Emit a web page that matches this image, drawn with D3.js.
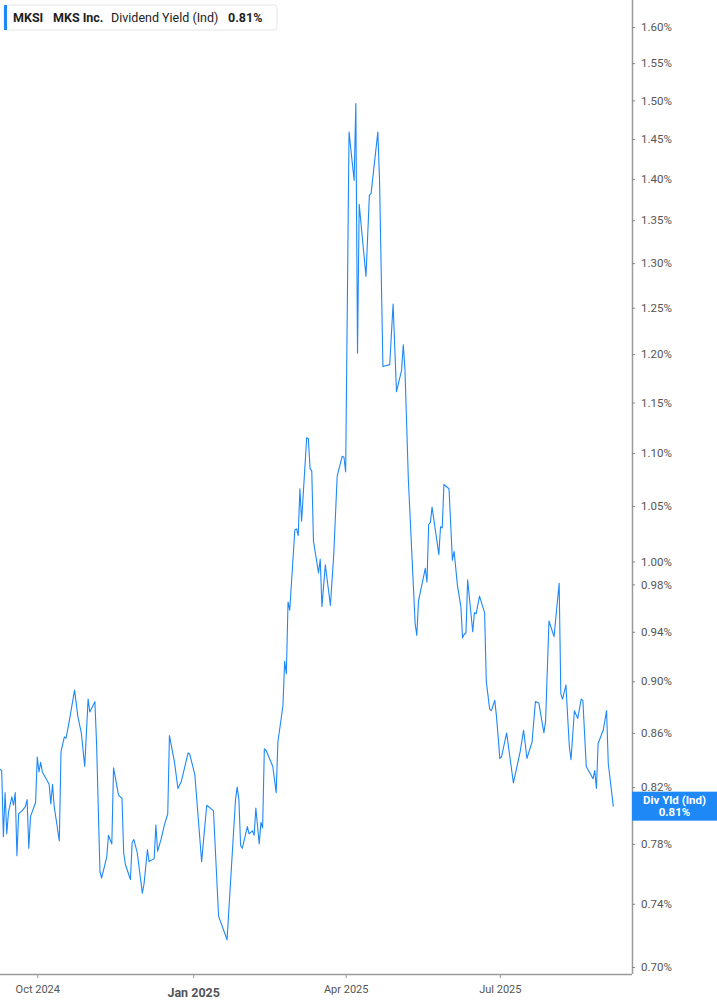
<!DOCTYPE html>
<html lang="en">
<head>
<meta charset="UTF-8">
<title>MKSI Dividend Yield (Ind)</title>
<script src="https://d3js.org/d3.v7.min.js"></script>
<style>
  html, body { margin: 0; padding: 0; background: #fff; }
  text { font-family: Roboto, "Noto Sans", sans-serif; }
</style>
</head>
<body>
<div id="chart"></div>
<script>
// dates of each point (trading days)
const dates = [
  "2024-09-09","2024-09-10","2024-09-11","2024-09-12","2024-09-13","2024-09-14","2024-09-16","2024-09-17",
  "2024-09-18","2024-09-19","2024-09-20","2024-09-22","2024-09-24","2024-09-25","2024-09-26","2024-09-27",
  "2024-09-30","2024-10-01","2024-10-02","2024-10-03","2024-10-04","2024-10-08","2024-10-09","2024-10-10",
  "2024-10-11","2024-10-14","2024-10-15","2024-10-17","2024-10-18","2024-10-20","2024-10-23","2024-10-25",
  "2024-10-27","2024-10-29","2024-10-31","2024-11-01","2024-11-04","2024-11-05","2024-11-07","2024-11-08",
  "2024-11-11","2024-11-12","2024-11-14","2024-11-15","2024-11-18","2024-11-20","2024-11-21","2024-11-22",
  "2024-11-25","2024-11-26","2024-11-27","2024-11-29","2024-12-02","2024-12-03","2024-12-05","2024-12-06",
  "2024-12-09","2024-12-10","2024-12-11","2024-12-13","2024-12-15","2024-12-17","2024-12-18","2024-12-21",
  "2024-12-23","2024-12-25","2024-12-29","2024-12-30","2025-01-02","2025-01-06","2025-01-09","2025-01-13",
  "2025-01-16","2025-01-21","2025-01-26","2025-01-27","2025-01-28","2025-01-29","2025-01-30","2025-02-02",
  "2025-02-03","2025-02-05","2025-02-06","2025-02-07","2025-02-09","2025-02-10","2025-02-11","2025-02-12",
  "2025-02-13","2025-02-17","2025-02-19","2025-02-20","2025-02-23","2025-02-24","2025-02-25","2025-02-26",
  "2025-02-27","2025-03-02","2025-03-03","2025-03-04","2025-03-05","2025-03-06","2025-03-09","2025-03-10",
  "2025-03-11","2025-03-12","2025-03-13","2025-03-16","2025-03-17","2025-03-18","2025-03-20","2025-03-23",
  "2025-03-25","2025-03-27","2025-03-30","2025-03-31","2025-04-01","2025-04-03","2025-04-06","2025-04-07",
  "2025-04-08","2025-04-09","2025-04-13","2025-04-15","2025-04-16","2025-04-20","2025-04-21","2025-04-23",
  "2025-04-27","2025-04-29","2025-05-01","2025-05-04","2025-05-05","2025-05-06","2025-05-08","2025-05-12",
  "2025-05-13","2025-05-14","2025-05-18","2025-05-19","2025-05-20","2025-05-21","2025-05-22","2025-05-26",
  "2025-05-27","2025-05-28","2025-05-29","2025-06-01","2025-06-03","2025-06-04","2025-06-06","2025-06-08",
  "2025-06-09","2025-06-10","2025-06-11","2025-06-12","2025-06-15","2025-06-16","2025-06-17","2025-06-19",
  "2025-06-22","2025-06-23","2025-06-25","2025-06-26","2025-06-28","2025-06-29","2025-07-01","2025-07-02",
  "2025-07-05","2025-07-09","2025-07-13","2025-07-15","2025-07-17","2025-07-20","2025-07-22","2025-07-24",
  "2025-07-27","2025-07-28","2025-07-30","2025-08-02","2025-08-05","2025-08-06","2025-08-07","2025-08-09",
  "2025-08-11","2025-08-12","2025-08-14","2025-08-16","2025-08-18","2025-08-19","2025-08-21","2025-08-25",
  "2025-08-26","2025-08-27","2025-08-28","2025-08-31","2025-09-02","2025-09-03","2025-09-06"
];

// dividend yield in percent
const yields = [
  0.833,0.832,0.785,0.816,0.787,0.802,0.813,0.807,
  0.816,0.772,0.801,0.803,0.806,0.811,0.777,0.799,
  0.809,0.842,0.831,0.838,0.831,0.822,0.808,0.822,
  0.806,0.782,0.846,0.857,0.856,0.870,0.893,0.872,
  0.860,0.835,0.886,0.876,0.884,0.852,0.761,0.757,
  0.771,0.786,0.780,0.834,0.814,0.812,0.774,0.766,
  0.756,0.781,0.783,0.774,0.747,0.753,0.776,0.768,
  0.770,0.793,0.775,0.783,0.793,0.801,0.858,0.838,
  0.819,0.824,0.845,0.844,0.829,0.768,0.807,0.803,
  0.732,0.717,0.811,0.820,0.811,0.779,0.777,0.792,
  0.787,0.789,0.786,0.805,0.780,0.795,0.791,0.848,
  0.847,0.835,0.816,0.853,0.881,0.916,0.906,0.965,
  0.958,1.028,1.029,1.023,1.066,1.036,1.115,1.114,
  1.085,1.083,1.018,0.990,1.002,0.961,0.997,0.962,
  1.007,1.078,1.097,1.096,1.082,1.459,1.398,1.496,
  1.201,1.369,1.285,1.380,1.382,1.459,1.399,1.187,
  1.189,1.254,1.161,1.183,1.210,1.184,1.075,0.947,
  0.937,0.966,0.994,0.982,1.033,1.035,1.049,1.006,
  1.031,1.030,1.070,1.066,1.001,1.009,0.979,0.961,
  0.935,0.938,0.939,0.984,0.940,0.956,0.955,0.970,
  0.956,0.900,0.878,0.877,0.885,0.873,0.841,0.842,
  0.860,0.823,0.846,0.862,0.841,0.853,0.884,0.883,
  0.860,0.869,0.949,0.936,0.981,0.890,0.886,0.897,
  0.850,0.840,0.877,0.871,0.886,0.885,0.835,0.826,
  0.832,0.819,0.852,0.862,0.877,0.837,0.806
];

const yTicks = [0.70, 0.74, 0.78, 0.82, 0.86, 0.90, 0.94, 0.98, 1.00, 1.05, 1.10, 1.15,
                1.20, 1.25, 1.30, 1.35, 1.40, 1.45, 1.50, 1.55, 1.60];
const xTicks = ["2024-10-01", "2025-01-01", "2025-04-01", "2025-07-01"];
const xTickLabels = ["Oct 2024", "Jan 2025", "Apr 2025", "Jul 2025"];
const lastLabel = "Div Yld (Ind)";
const lastValue = yields[yields.length - 1];

const W = 717, H = 1005;
const plotW = 632, plotH = 974;
const blue = "#1e88f7";
const parse = d3.timeParse("%Y-%m-%d");

const data = dates.map((d, i) => ({ date: parse(d), value: yields[i] }));

const svg = d3.select("#chart").append("svg")
  .attr("width", W)
  .attr("height", H);

const x = d3.scaleTime()
  .domain([parse("2024-09-09"), parse("2025-09-17")])
  .range([0, plotW]);

const y = d3.scaleLog()
  .domain([0.6957, 1.6385])
  .range([plotH, 0]);

// the line
svg.append("path")
  .datum(data)
  .attr("fill", "none")
  .attr("stroke", blue)
  .attr("stroke-width", 1.1)
  .attr("stroke-linejoin", "round")
  .attr("d", d3.line().x(d => x(d.date)).y(d => y(d.value)));

// right axis
const yAxis = svg.append("g")
  .attr("transform", "translate(" + plotW + ",0)")
  .call(d3.axisRight(y).tickValues(yTicks).tickSize(3).tickPadding(6)
    .tickFormat(d => d.toFixed(2) + "%"));
yAxis.select(".domain").attr("stroke", "#9a9a9a").attr("stroke-width", 1.5)
  .attr("d", "M0.5,0V" + plotH);
yAxis.selectAll(".tick line").attr("stroke", "#888");
yAxis.selectAll(".tick text").attr("fill", "#555").style("font-size", "11.5px");

// bottom axis
const xAxis = svg.append("g")
  .attr("transform", "translate(0," + plotH + ")")
  .call(d3.axisBottom(x).tickValues(xTicks.map(parse)).tickSize(4).tickPadding(7)
    .tickFormat((d, i) => xTickLabels[i]));
xAxis.select(".domain").attr("stroke", "#9a9a9a").attr("stroke-width", 1.5)
  .attr("d", "M0," + 0.5 + "H" + plotW);
xAxis.selectAll(".tick line").attr("stroke", "#9a9a9a");
xAxis.selectAll(".tick text").attr("fill", "#555").style("font-size", "11px")
  .filter((d, i) => i === 1)
  .style("font-weight", "bold").style("font-size", "12.5px").attr("dy", "0.95em");

// last value tag
const tag = svg.append("g")
  .attr("transform", "translate(" + plotW + "," + (y(lastValue) - 15) + ")");
tag.append("rect")
  .attr("width", W - plotW)
  .attr("height", 29)
  .attr("fill", blue);
tag.append("text")
  .attr("x", (W - plotW) / 2).attr("y", 12)
  .attr("text-anchor", "middle")
  .attr("fill", "#fff").style("font-size", "11.5px").style("font-weight", "bold")
  .text(lastLabel);
tag.append("text")
  .attr("x", (W - plotW) / 2).attr("y", 24.5)
  .attr("text-anchor", "middle")
  .attr("fill", "#fff").style("font-size", "11.5px").style("font-weight", "bold")
  .text(lastValue.toFixed(2) + "%");

// legend box
const legend = svg.append("g").attr("transform", "translate(4,5)");
legend.append("rect")
  .attr("width", 273).attr("height", 25).attr("rx", 3)
  .attr("fill", "#fff").attr("stroke", "#e6e6e6");
legend.append("rect")
  .attr("width", 3).attr("height", 25).attr("fill", blue);
const legendItems = [
  { text: "MKSI", x: 9, bold: true },
  { text: "MKS Inc.", x: 49, bold: true },
  { text: "Dividend Yield (Ind)", x: 107, bold: false },
  { text: lastValue.toFixed(2) + "%", x: 224, bold: true }
];
legend.selectAll("text.item")
  .data(legendItems)
  .enter().append("text")
    .attr("class", "item")
    .attr("x", d => d.x)
    .attr("y", 17)
    .attr("fill", "#222")
    .style("font-size", "12.5px")
    .style("font-weight", d => d.bold ? "bold" : "normal")
    .text(d => d.text);
</script>
</body>
</html>
